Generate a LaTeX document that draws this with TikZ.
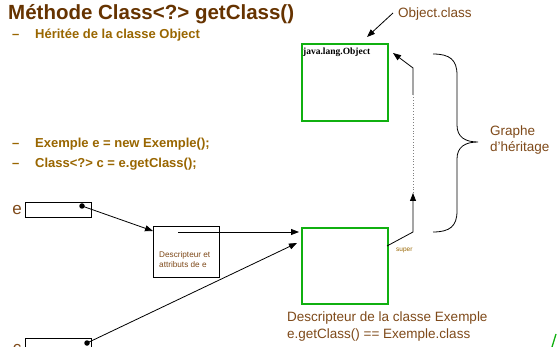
\documentclass[tikz,border=0pt]{standalone}
\usepackage{fontspec}
\setmainfont{Liberation Sans}
\newfontfamily\timesfont{Liberation Serif}
\usetikzlibrary{arrows.meta}
\definecolor{titlebrown}{HTML}{663300}
\definecolor{gold}{HTML}{996600}
\definecolor{lblbrown}{HTML}{7F4A1A}
\definecolor{boxgreen}{HTML}{10B010}
\tikzset{
  arr/.style={-{Triangle[length=8pt,width=6pt]},black,line width=0.8pt},
  refbox/.style={draw=black,line width=0.8pt,minimum width=66pt,minimum height=15pt,inner sep=0pt},
  greenbox/.style={draw=boxgreen,line width=2pt,inner sep=0pt},
  descbox/.style={draw=black,line width=0.8pt,inner sep=0pt},
  lbl/.style={text=lblbrown,font=\fontsize{13.5}{16.5}\selectfont,inner sep=0pt},
  item/.style={text=gold,font=\bfseries\fontsize{13}{15}\selectfont,anchor=base west,inner sep=0pt},
  dot/.style={circle,fill=black,inner sep=0pt,minimum size=5.5pt}
}
\begin{document}
\begin{tikzpicture}[x=1pt,y=-1pt]
\clip (0,0) rectangle (559,347);
\fill[white] (0,0) rectangle (559,347);
% title
\node[anchor=base west,inner sep=0pt,text=titlebrown,font=\bfseries\fontsize{20.5}{24}\selectfont] (title) at (8,20) {Méthode Class<?> getClass()};
\node[item] (d1) at (12,39) {–};
\node[item] (i1) at (35,39) {Héritée de la classe Object};
\node[item] (d2) at (12,148) {–};
\node[item] (i2) at (35,148) {Exemple e = new Exemple();};
\node[item] (d3) at (12,168) {–};
\node[item] (i3) at (35,168) {Class<?> c = e.getClass();};
% reference boxes
\node[lbl,font=\fontsize{17}{18}\selectfont] (el) at (17,210) {e};
\node[refbox,anchor=north west] (ebox) at (25,202) {};
\node[dot] (edot) at (82,206) {};
\node[lbl,font=\fontsize{17}{18}\selectfont] (cl) at (17,349) {c};
\node[refbox,anchor=north west] (cbox) at (25,338) {};
\node[dot] (cdot) at (87,343) {};
% descripteur de e
\node[descbox,minimum width=66pt,minimum height=51pt,anchor=north west] (desc) at (153,226) {};
\node[text=lblbrown,font=\fontsize{8.2}{10}\selectfont,align=left,anchor=north west,inner sep=0pt] (desct) at (159,251) {Descripteur et\\attributs de e};
\coordinate (dstart) at (178,232);
% green boxes
\node[greenbox,minimum width=86pt,minimum height=76pt,anchor=north west] (exbox) at (301,227) {};
\node[greenbox,minimum width=86pt,minimum height=77pt,anchor=north west] (objbox) at (301,43) {};
\node[anchor=north west,inner sep=0pt,font=\timesfont\bfseries\fontsize{9.5}{11}\selectfont] (objt) at (303,48) {java.lang.Object};
% arrows
\draw[arr] (edot.center) -- (desc.north west |- 0,231);
\coordinate (extip1) at (299,232);
\coordinate (extip2) at (297,243);
\draw[arr] (dstart) -- (extip1);
\draw[arr] (cdot.center) -- (extip2);
% super chain
\coordinate (s0) at (387,246);
\coordinate (s1) at (413,232);
\coordinate (s2) at (413,193);
\coordinate (s3) at (413,95);
\coordinate (s4) at (413,68);
\coordinate (s5) at (393,53);
\draw[arr] (s0) -- (s1) -- (s2);
\draw[gray,line width=0.8pt,dotted] (s2) -- (s3);
\draw[arr] (s3) -- (s4) -- (s5);
\node[text=gold,font=\fontsize{6.5}{8}\selectfont,anchor=west,inner sep=0pt] (sup) at (396,250) {super};
% Object.class
\node[lbl,anchor=west] (oc) at (398,14) {Object.class};
\draw[arr] (393,13) -- (367,37);
% brace
\draw[line width=0.8pt] (433,54) .. controls (450,54) and (457,60) .. (457,75)
  -- (457,125) .. controls (457,137) and (465,142) .. (478,142)
  .. controls (465,142) and (457,147) .. (457,159)
  -- (457,211) .. controls (457,226) and (450,232) .. (433,232);
\node[lbl,align=left,anchor=west] (gh) at (490,140) {Graphe\\d’héritage};
% bottom labels
\node[lbl,align=left,anchor=north west] (bl) at (287,312) {Descripteur de la classe Exemple\\e.getClass() == Exemple.class};
% corner green fragment
\draw[boxgreen,line width=1.3pt] (556,334) -- (552,347);
\end{tikzpicture}
\end{document}
